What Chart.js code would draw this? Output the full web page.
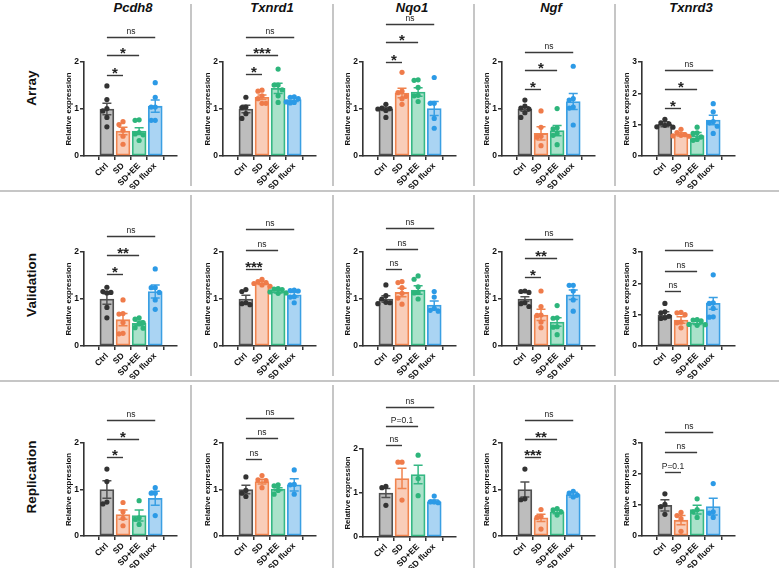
<!DOCTYPE html>
<html>
<head>
<meta charset="utf-8">
<script src="https://cdn.jsdelivr.net/npm/chart.js@4.4.1/dist/chart.umd.min.js"></script>
<style>
  body { margin: 0; width: 779px; height: 568px; background: #fff; position: relative; overflow: hidden;
         font-family: "Liberation Sans", Arial, sans-serif; }
  canvas { position: absolute; }
  .vl { position: absolute; width: 2px; background: #c6c6c6; }
  .hl { position: absolute; left: 0; width: 779px; height: 2px; background: #c6c6c6; }
  .gene { position: absolute; top: 0; font: italic bold 13px "Liberation Sans", Arial, sans-serif;
          transform: translateX(-50%); color: #111; }
  .cohort { position: absolute; left: 31px; font: bold 13.5px "Liberation Sans", Arial, sans-serif; color: #111;
            white-space: nowrap; transform: translate(-50%, -50%) rotate(-90deg); }
</style>
</head>
<body>
<script>
// ---------- data ----------
const groups = ['Ctrl', 'SD', 'SD+EE', 'SD fluox'];
const genes = ['Pcdh8', 'Txnrd1', 'Nqo1', 'Ngf', 'Txnrd3'];
const cohorts = ['Array', 'Validation', 'Replication'];
const yMax = [2, 2, 2, 2, 3];
const yTickLabels = [[0, 1, 2], [0, 1, 2], [0, 1, 2], [0, 1, 2], [0, 1, 2, 3]];

// Array
const arrayMeans = [
  [1.00, 0.53, 0.53, 1.06],
  [1.00, 1.25, 1.44, 1.20],
  [1.00, 1.34, 1.36, 1.01],
  [1.00, 0.48, 0.54, 1.16],
  [1.01, 0.69, 0.65, 1.15]
];
const arraySem = [
  [0.12, 0.08, 0.07, 0.13],
  [0.08, 0.05, 0.11, 0.04],
  [0.03, 0.10, 0.09, 0.15],
  [0.05, 0.14, 0.11, 0.17],
  [0.08, 0.05, 0.10, 0.15]
];
const arrayPoints = [
  [[1.49, 1.20, 1.01, 0.96, 0.82, 0.62], [0.73, 0.67, 0.55, 0.42, 0.25], [0.77, 0.76, 0.50, 0.47, 0.45, 0.33], [1.56, 1.25, 1.04, 1.04, 0.76, 0.76]],
  [[1.25, 1.04, 1.03, 0.90, 0.80], [1.38, 1.40, 1.28, 1.22, 1.12, 1.12], [1.85, 1.51, 1.51, 1.41, 1.28, 1.14], [1.26, 1.25, 1.22, 1.14, 1.13, 1.15]],
  [[1.10, 1.02, 1.01, 1.00, 0.97, 0.82], [1.78, 1.38, 1.35, 1.27, 1.22, 1.10], [1.62, 1.61, 1.46, 1.29, 1.28, 1.16], [1.67, 1.12, 1.12, 0.80, 0.59]],
  [[1.19, 1.06, 1.02, 1.00, 0.92, 0.82], [0.96, 0.61, 0.42, 0.40, 0.22], [1.01, 0.60, 0.58, 0.48, 0.44, 0.24], [1.91, 1.22, 1.19, 1.04, 1.02, 0.66]],
  [[1.17, 1.06, 1.03, 0.98, 0.93, 0.92], [0.85, 0.75, 0.68, 0.66, 0.64, 0.63], [0.92, 0.74, 0.72, 0.61, 0.53, 0.50], [1.67, 1.41, 1.10, 1.06, 0.95, 0.72]]
];
const arraySig = [['*', '*', 'ns'], ['*', '***', 'ns'], ['*', '*', 'ns'], ['*', '*', 'ns'], ['*', '*', 'ns']];
const arraySigLevel = [[1.73, 2.14, 2.54], [1.75, 2.15, 2.54], [2.01, 2.42, 2.81], [1.42, 1.82, 2.22], [1.54, 2.14, 2.74]];

// Validation
const validMeans = [
  [1.00, 0.56, 0.48, 1.16],
  [1.00, 1.34, 1.16, 1.09],
  [1.00, 1.14, 1.19, 0.87],
  [1.00, 0.66, 0.51, 1.09],
  [0.99, 0.83, 0.74, 1.36]
];
const validSem = [
  [0.11, 0.13, 0.05, 0.14],
  [0.08, 0.03, 0.03, 0.05],
  [0.07, 0.09, 0.09, 0.09],
  [0.05, 0.12, 0.09, 0.10],
  [0.10, 0.10, 0.05, 0.19]
];
const validPoints = [
  [[1.25, 1.16, 1.14, 1.13, 0.82, 0.60], [0.98, 0.69, 0.68, 0.50, 0.27, 0.26], [0.60, 0.57, 0.50, 0.48, 0.39, 0.38], [1.64, 1.24, 1.24, 1.14, 0.98, 0.78]],
  [[1.20, 1.16, 0.92, 0.90, 0.88], [1.42, 1.37, 1.35, 1.33, 1.30, 1.27], [1.22, 1.21, 1.20, 1.15, 1.13, 1.12], [1.19, 1.18, 1.17, 1.05, 1.04, 0.92]],
  [[1.30, 1.07, 1.00, 0.93, 0.92, 0.90], [1.37, 1.35, 1.24, 1.12, 1.02, 0.89], [1.49, 1.42, 1.26, 1.14, 1.13, 1.00], [1.16, 1.04, 0.80, 0.76, 0.74]],
  [[1.17, 1.16, 1.14, 0.92, 0.90, 0.84], [1.17, 0.84, 0.66, 0.65, 0.51, 0.39], [0.86, 0.60, 0.59, 0.41, 0.40, 0.24], [1.29, 1.29, 1.17, 0.98, 0.74]],
  [[1.36, 1.09, 1.06, 0.95, 0.90, 0.88], [1.07, 1.06, 1.00, 0.76, 0.74, 0.58], [0.84, 0.83, 0.80, 0.69, 0.68, 0.66], [2.27, 1.38, 1.36, 1.20, 0.93, 0.92]]
];
const validSig = [['*', '**', 'ns'], ['***', 'ns', 'ns'], ['ns', 'ns', 'ns'], ['*', '**', 'ns'], ['ns', 'ns', 'ns']];
const validSigLevel = [[1.53, 1.93, 2.34], [1.64, 2.04, 2.49], [1.63, 2.07, 2.51], [1.47, 1.87, 2.27], [1.74, 2.40, 3.05]];

// Replication
const replMeans = [
  [1.00, 0.46, 0.44, 0.81],
  [1.00, 1.17, 1.01, 1.10],
  [1.00, 1.33, 1.42, 0.80],
  [1.00, 0.39, 0.52, 0.89],
  [0.99, 0.51, 0.85, 0.95]
];
const replSem = [
  [0.19, 0.10, 0.12, 0.15],
  [0.09, 0.05, 0.03, 0.13],
  [0.10, 0.23, 0.21, 0.04],
  [0.16, 0.08, 0.04, 0.05],
  [0.18, 0.15, 0.14, 0.27]
];
const replPoints = [
  [[1.44, 1.17, 0.73, 0.69], [0.72, 0.52, 0.38, 0.22], [0.76, 0.39, 0.36, 0.25], [1.04, 0.92, 0.92, 0.44]],
  [[1.27, 0.98, 0.92, 0.85], [1.30, 1.21, 1.19, 1.04], [1.10, 1.08, 0.98, 0.90], [1.42, 1.11, 1.10, 0.90]],
  [[1.15, 1.12, 0.72], [1.70, 1.70, 0.84], [1.86, 1.33, 0.94], [0.93, 0.80, 0.80, 0.78]],
  [[1.44, 0.80, 0.78], [0.57, 0.42, 0.40, 0.15], [0.59, 0.56, 0.52, 0.45], [0.96, 0.92, 0.88, 0.84]],
  [[1.36, 1.02, 0.95, 0.70], [0.76, 0.66, 0.56, 0.15], [1.20, 0.85, 0.78, 0.60], [1.69, 0.78, 0.74, 0.60]]
];
const replSig = [['*', '*', 'ns'], ['ns', 'ns', 'ns'], ['ns', 'P=0.1', 'ns'], ['***', '**', 'ns'], ['P=0.1', 'ns', 'ns']];
const replSigLevel = [[1.69, 2.09, 2.49], [1.66, 2.10, 2.53], [2.09, 2.52, 2.95], [1.69, 2.09, 2.49], [2.05, 2.70, 3.35]];

// ---------- styles / layout ----------
const fills = ['#bdbdbd', '#f9cdb9', '#aae2ca', '#aad4f3'];
const edges = ['#505050', '#f0844f', '#35b884', '#3a9fe3'];
const dots = ['#333333', '#ef7b4a', '#2db57b', '#2c9ae6'];
const FONT = '"Liberation Sans", Arial, sans-serif';

const axisX = [84, 223, 363, 502, 642];
const rows = [
  { top: 0, h: 189, plotTop: 62, plotBottom: 156 },
  { top: 193, h: 186, plotTop: 252, plotBottom: 346 },
  { top: 383, h: 185, plotTop: 443, plotBottom: 536 }
];
const rowData = [
  [arrayMeans, arraySem, arrayPoints, arraySig, arraySigLevel],
  [validMeans, validSem, validPoints, validSig, validSigLevel],
  [replMeans, replSem, replPoints, replSig, replSigLevel]
];

// simple beeswarm so dots at similar height sit side by side
function swarm(vals, g, thr) {
  const placed = [];
  vals.slice().sort((a, b) => b - a).forEach(v => {
    for (const dx of [0, -0.25, 0.25, -0.5, 0.5]) {
      if (!placed.some(p => p.dx === dx && Math.abs(p.v - v) < thr)) { placed.push({ v, dx }); return; }
    }
    placed.push({ v, dx: 0 });
  });
  return placed.map(p => ({ x: g + p.dx, y: p.v }));
}

const errorBars = {
  id: 'errorBars',
  afterDatasetDraw(chart, args) {
    if (args.index !== 0) return;
    const ds = chart.data.datasets[0];
    const y = chart.scales.y;
    const c = chart.ctx;
    args.meta.data.forEach((bar, i) => {
      const m = ds.data[i].y, e = ds.errors[i];
      const t = y.getPixelForValue(m + e), b = y.getPixelForValue(m - e);
      c.save();
      c.strokeStyle = edges[i];
      c.lineWidth = 1.5;
      c.beginPath();
      c.moveTo(bar.x, t); c.lineTo(bar.x, b);
      c.moveTo(bar.x - 4.5, t); c.lineTo(bar.x + 4.5, t);
      c.moveTo(bar.x - 4.5, b); c.lineTo(bar.x + 4.5, b);
      c.stroke();
      c.restore();
    });
  }
};

function makePanel(r, g) {
  const row = rows[r];
  const [means, sem, points, sig, sigLevel] = rowData[r];
  const plotTop = (r === 2 && g === 2) ? 449 : row.plotTop;
  const plotBottom = (r === 2 && g === 2) ? 537 : row.plotBottom;
  const pxPerUnit = (plotBottom - plotTop) / yMax[g];

  const cv = document.createElement('canvas');
  cv.width = 129; cv.height = row.h;
  cv.style.left = (axisX[g] - 30) + 'px';
  cv.style.top = row.top + 'px';
  document.body.appendChild(cv);

  let scatter = [], scatterColors = [];
  points[g].forEach((vals, k) => {
    const s = swarm(vals, k, 5.4 / pxPerUnit);
    scatter = scatter.concat(s);
    scatterColors = scatterColors.concat(s.map(() => dots[k]));
  });

  const brackets = {
    id: 'brackets',
    afterDraw(chart) {
      const c = chart.ctx, xs = chart.scales.x, ys = chart.scales.y;
      sig[g].forEach((lab, k) => {
        const yy = Math.round(ys.getPixelForValue(sigLevel[g][k])) + 0.5;
        const x0 = xs.getPixelForValue(0), x1 = xs.getPixelForValue(k + 1);
        c.save();
        c.strokeStyle = '#3a3a3a';
        c.lineWidth = 1.4;
        c.beginPath(); c.moveTo(x0, yy); c.lineTo(x1, yy); c.stroke();
        c.fillStyle = '#222';
        c.textAlign = 'center';
        c.textBaseline = 'alphabetic';
        if (lab.startsWith('*')) {
          c.font = 'bold 15px ' + FONT;
          c.fillText(lab, (x0 + x1) / 2, yy + 2.5);
        } else {
          c.font = '8.5px ' + FONT;
          c.fillText(lab, (x0 + x1) / 2, yy - 4);
        }
        c.restore();
      });
    }
  };

  new Chart(cv, {
    type: 'bar',
    data: {
      datasets: [
        {
          type: 'bar',
          data: means[g].map((v, i) => ({ x: i, y: v })),
          errors: sem[g],
          backgroundColor: fills,
          borderColor: edges,
          borderWidth: 1.8,
          borderSkipped: false,
          barThickness: 14,
          order: 2
        },
        {
          type: 'scatter',
          data: scatter,
          pointBackgroundColor: scatterColors,
          pointBorderWidth: 0,
          pointRadius: 2.6,
          order: 1
        }
      ]
    },
    options: {
      responsive: false,
      animation: false,
      events: [],
      layout: { padding: { left: 10, right: 6, top: plotTop - row.top, bottom: 0 } },
      plugins: { legend: { display: false }, tooltip: { enabled: false } },
      scales: {
        x: {
          type: 'linear',
          min: -0.7,
          max: 3.63,
          afterBuildTicks: s => { s.ticks = [0, 1, 2, 3].map(v => ({ value: v })); },
          afterFit: s => { s.height = row.top + row.h - plotBottom; },
          ticks: {
            callback: v => groups[v],
            autoSkip: false,
            minRotation: 45,
            maxRotation: 45,
            padding: 1,
            color: '#111',
            font: { family: FONT, size: 8.5, weight: 'bold' }
          },
          grid: { drawOnChartArea: false, tickLength: 4, color: '#333', lineWidth: 1.5 },
          border: { color: '#333', width: 1.6 }
        },
        y: {
          min: 0,
          max: yMax[g],
          afterBuildTicks: s => { s.ticks = yTickLabels[g].map(v => ({ value: v })); },
          afterFit: s => { s.width = 20; },
          ticks: { padding: 1, color: '#111', font: { family: FONT, size: 8.5, weight: 'bold' } },
          grid: { drawOnChartArea: false, tickLength: 4, color: '#333', lineWidth: 1.5 },
          border: { color: '#333', width: 1.6 },
          title: {
            display: true,
            text: 'Relative expression',
            padding: 0,
            color: '#111',
            font: { family: FONT, size: 7.8, weight: 'bold' }
          }
        }
      }
    },
    plugins: [errorBars, brackets]
  });
}

// dividers
[190, 380].forEach(y => {
  const d = document.createElement('div');
  d.className = 'hl'; d.style.top = y + 'px';
  document.body.appendChild(d);
});
[[4, 186], [195, 376], [385, 568]].forEach(([y0, y1]) => {
  [190, 332, 473, 614].forEach(x => {
    const d = document.createElement('div');
    d.className = 'vl';
    d.style.left = x + 'px'; d.style.top = y0 + 'px'; d.style.height = (y1 - y0) + 'px';
    document.body.appendChild(d);
  });
});

// gene titles and cohort labels
genes.forEach((name, g) => {
  const d = document.createElement('div');
  d.className = 'gene'; d.textContent = name;
  d.style.left = (axisX[g] + 49) + 'px';
  document.body.appendChild(d);
});
[88, 285, 477].forEach((y, r) => {
  const d = document.createElement('div');
  d.className = 'cohort'; d.textContent = cohorts[r];
  d.style.top = y + 'px';
  document.body.appendChild(d);
});

for (let r = 0; r < 3; r++) {
  for (let g = 0; g < 5; g++) makePanel(r, g);
}
</script>
</body>
</html>
